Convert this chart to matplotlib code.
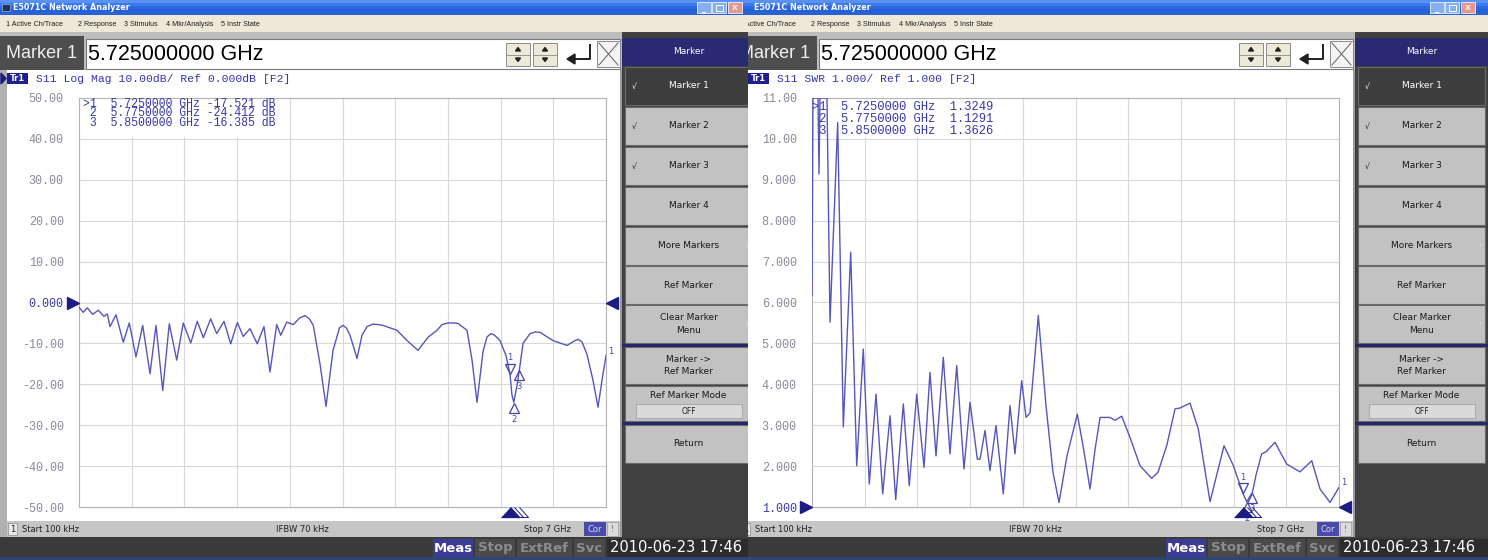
import matplotlib
matplotlib.use("Agg")
import matplotlib.pyplot as plt
from matplotlib.patches import Rectangle, Polygon
from matplotlib.transforms import offset_copy, blended_transform_factory, Affine2D
import numpy as np

W, H = 1488, 560

# S11 log mag trace (GHz, dB)
s11_freq = [0.0001, 0.057, 0.110, 0.182, 0.256, 0.332, 0.376, 0.412, 0.491, 0.588,
            0.668, 0.757, 0.846, 0.943, 1.023, 1.112, 1.199, 1.298, 1.385, 1.484,
            1.571, 1.651, 1.749, 1.829, 1.926, 2.015, 2.103, 2.182, 2.271, 2.368,
            2.457, 2.537, 2.626, 2.679, 2.759, 2.847, 2.930, 3.002, 3.060, 3.112,
            3.201, 3.281, 3.374, 3.460, 3.507, 3.550, 3.600, 3.693, 3.759, 3.826,
            3.900, 3.970, 4.038, 4.224, 4.357, 4.503, 4.636, 4.755, 4.822, 4.900,
            4.970, 5.034, 5.154, 5.220, 5.287, 5.366, 5.420, 5.473, 5.520, 5.592,
            5.672, 5.725, 5.750, 5.775, 5.800, 5.825, 5.850, 5.898, 5.991, 6.060,
            6.124, 6.296, 6.482, 6.580, 6.628, 6.680, 6.748, 6.827, 6.894, 6.947,
            7.0]
s11_db = [-1.2, -2.4, -1.3, -2.9, -1.9, -3.4, -2.8, -5.9, -3.0, -9.7,
          -5.0, -13.3, -5.6, -17.4, -5.6, -21.5, -5.2, -14.1, -5.0, -9.9,
          -4.6, -8.6, -4.0, -7.6, -4.6, -10.1, -4.9, -8.3, -6.4, -10.1,
          -5.9, -17.0, -5.4, -8.0, -4.8, -5.4, -3.8, -3.2, -4.0, -5.6,
          -15.0, -25.4, -11.7, -6.2, -5.6, -6.2, -8.0, -13.7, -8.0, -5.9,
          -5.3, -5.4, -5.6, -6.8, -9.3, -11.7, -8.5, -6.8, -5.4, -5.0,
          -5.0, -5.1, -6.8, -14.0, -24.4, -12.0, -8.4, -7.6, -8.0, -9.3,
          -13.0, -17.521, -22.5, -24.412, -22.0, -19.5, -16.385, -10.0, -7.6, -7.2,
          -7.3, -9.3, -10.5, -9.4, -9.0, -9.6, -12.7, -19.0, -25.6, -19.0,
          -13.0]

# SWR trace (values above 11 sit on the top edge)
swr_freq = [0.0001, 0.013, 0.080, 0.093, 0.106, 0.199, 0.239, 0.341, 0.416, 0.514,
            0.594, 0.681, 0.761, 0.850, 0.939, 1.036, 1.112, 1.213, 1.292, 1.391,
            1.488, 1.567, 1.647, 1.744, 1.833, 1.922, 2.019, 2.099, 2.196, 2.232,
            2.298, 2.364, 2.444, 2.541, 2.630, 2.696, 2.785, 2.843, 2.896, 3.006,
            3.108, 3.201, 3.281, 3.387, 3.524, 3.600, 3.693, 3.759, 3.826, 3.958,
            4.025, 4.114, 4.224, 4.357, 4.512, 4.596, 4.712, 4.822, 4.888, 5.021,
            5.131, 5.287, 5.473, 5.597, 5.725, 5.775, 5.850, 5.900, 5.973, 6.031,
            6.150, 6.305, 6.482, 6.638, 6.748, 6.881, 7.0]
swr_val = [6.17, 11.0, 11.0, 9.14, 11.0, 11.0, 5.52, 10.4, 2.96, 7.23,
           2.01, 4.86, 1.56, 3.76, 1.32, 3.23, 1.18, 3.52, 1.52, 3.76,
           1.97, 4.29, 2.25, 4.66, 2.30, 4.46, 1.93, 3.56, 2.17, 2.17,
           2.87, 1.89, 2.99, 1.32, 3.48, 2.30, 4.09, 3.19, 3.30, 5.68,
           3.48, 1.85, 1.11, 2.25, 3.27, 2.5, 1.44, 2.4, 3.19, 3.19,
           3.12, 3.22, 2.70, 2.01, 1.70, 1.85, 2.50, 3.40, 3.42, 3.54,
           2.91, 1.13, 2.50, 2.01, 1.3249, 1.1291, 1.3626, 1.8, 2.30, 2.35,
           2.58, 2.05, 1.86, 2.13, 1.44, 1.11, 1.48]

mkr_freq = [5.725, 5.775, 5.85]
mkr_db = [-17.521, -24.412, -16.385]
mkr_swr = [1.3249, 1.1291, 1.3626]

db_ticks = [50, 40, 30, 20, 10, 0, -10, -20, -30, -40, -50]
db_labels = ["50.00", "40.00", "30.00", "20.00", "10.00", "0.000",
             "-10.00", "-20.00", "-30.00", "-40.00", "-50.00"]
swr_ticks = [11, 10, 9, 8, 7, 6, 5, 4, 3, 2, 1]
swr_labels = ["11.00", "10.00", "9.000", "8.000", "7.000", "6.000",
              "5.000", "4.000", "3.000", "2.000", "1.000"]

menu_items = ["1 Active Ch/Trace", "2 Response", "3 Stimulus", "4 Mkr/Analysis", "5 Instr State"]
softkeys = ["Marker 1", "Marker 2", "Marker 3", "Marker 4", "More Markers", "Ref Marker",
            "Clear Marker\nMenu", "Marker ->\nRef Marker", "Ref Marker Mode", "Return"]
status_keys = ["Meas", "Stop", "ExtRef", "Svc"]
date_text = "2010-06-23 17:46"

TRACE = "#5656bc"
NAVY = "#1c1c84"
MONO = "Liberation Mono"

plt.rcParams["font.family"] = "DejaVu Sans"
fig = plt.figure(figsize=(W / 100, H / 100), dpi=100)
fig.patch.set_facecolor("#3a3a3a")
pix = Affine2D().scale(1.0 / W, -1.0 / H).translate(0, 1) + fig.transFigure


def rect(ax, x0, y0, x1, y1, fc, ec="none", lw=0.0, z=1):
    ax.add_patch(Rectangle((x0, y0), x1 - x0, y1 - y0, facecolor=fc,
                           edgecolor=ec, linewidth=lw, zorder=z))


def txt(ax, x, y, s, **kw):
    kw.setdefault("clip_on", True)
    kw.setdefault("va", "center")
    return ax.text(x, y, s, **kw)


def draw_screen(fx0, fx1, lx0, dxh, trace_hdr, icon):
    ax = fig.add_axes([fx0 / W, 0, (fx1 - fx0) / W, 1])
    ax.set_xlim(lx0, lx0 + (fx1 - fx0))
    ax.set_ylim(H, 0)
    ax.axis("off")

    rect(ax, 0, 0, 760, 560, "#c4c4c4")
    # title bar
    bands = ["#5a92f4", "#3d7aee", "#2c68e2", "#2460d8", "#2a62d6"]
    for i, c in enumerate(bands):
        rect(ax, 0, i * 3, 760, i * 3 + 3, c)
    if icon:
        rect(ax, 2, 4, 10, 11, "#203060", ec="#a0b0d0", lw=0.5, z=2)
    txt(ax, 13 + dxh, 7.5, "E5071C Network Analyzer", color="white",
        fontsize=5.8, fontweight="bold")
    for x0, c in [(697, "#86aef2"), (712, "#86aef2"), (728, "#e39a8e")]:
        rect(ax, x0, 2, x0 + 14, 13, c, ec="#eef3ff", lw=0.6, z=2)
    txt(ax, 704, 9, "_", color="white", fontsize=6, ha="center", fontweight="bold")
    rect(ax, 716, 5, 723, 11, "none", ec="white", lw=0.7, z=3)
    txt(ax, 735, 7.5, "x", color="#f8e8e4", fontsize=6.5, ha="center", fontweight="bold")

    # menu bar
    rect(ax, 0, 15, 760, 32, "#ece9d8")
    for x, s in zip([6, 78, 124, 166, 221], menu_items):
        txt(ax, x, 24, s, fontsize=5.2, color="#202020", fontfamily="Liberation Sans")

    # marker entry row
    rect(ax, 0, 32, 622, 70, "#bdbdbd")
    rect(ax, 0, 36, 84, 70, "#4e4e4e")
    txt(ax, 42, 54, "Marker 1", color="#f0f0f0", fontsize=13, ha="center",
        fontfamily="Liberation Sans")
    rect(ax, 86, 39, 620, 69, "white", ec="#7a7a7a", lw=0.8, z=2)
    txt(ax, 88, 54.5, "5.725000000 GHz", color="black", fontsize=15.5,
        fontfamily="Liberation Sans", zorder=3)
    for x0 in (506, 533):
        rect(ax, x0, 43, x0 + 24, 66, "#ece9d8", ec="#8a8a8a", lw=0.7, z=3)
        ax.plot([x0, x0 + 24], [54.5, 54.5], color="#8a8a8a", lw=0.6, zorder=4)
        cx = x0 + 12
        ax.add_patch(Polygon([(cx - 2.5, 51), (cx + 2.5, 51), (cx, 47.5)], color="#202020", zorder=4))
        ax.add_patch(Polygon([(cx - 2.5, 58), (cx + 2.5, 58), (cx, 61.5)], color="#202020", zorder=4))
    ax.plot([590, 590, 573], [45, 59, 59], color="#202020", lw=1.4, zorder=4)
    ax.add_patch(Polygon([(567, 59), (575, 54), (575, 64)], color="#202020", zorder=4))
    rect(ax, 597, 41, 620, 67, "#f4f4f4", ec="#8a8a8a", lw=0.7, z=3)
    ax.plot([599, 618], [43, 65], color="#606060", lw=0.7, zorder=4)
    ax.plot([599, 618], [65, 43], color="#606060", lw=0.7, zorder=4)

    # plot panel
    rect(ax, 0, 70, 7, 537, "#b0b0b0")
    rect(ax, 7, 70, 620, 521, "white")
    rect(ax, 620, 70, 622, 537, "#9a9a9a")
    hx = 7 + dxh
    if icon:
        ax.add_patch(Polygon([(1, 73), (1, 84), (6, 78.5)], color=NAVY, zorder=2))
    rect(ax, hx, 73, hx + 21, 84, "#1e1e8e", z=2)
    txt(ax, hx + 10.5, 78.5, "Tr1", color="white", fontsize=6, ha="center", fontweight="bold", zorder=3)
    txt(ax, hx + 29, 78.5, trace_hdr, color="#3434b0", fontsize=8.2, fontfamily=MONO, zorder=3)

    # status bar
    rect(ax, 7, 521, 620, 537, "#c6c6c6")
    rect(ax, 8, 523, 17, 535, "#e8e8e8", ec="#8a8a8a", lw=0.5, z=2)
    txt(ax, 12.5, 529, "1", fontsize=6, ha="center", color="#202020", zorder=3)
    txt(ax, 22, 529, "Start 100 kHz", fontsize=6, color="#202020")
    txt(ax, 276, 529, "IFBW 70 kHz", fontsize=6, color="#202020")
    txt(ax, 524, 529, "Stop 7 GHz", fontsize=6, color="#202020")
    rect(ax, 584, 522, 606, 536, "#4a4aa8", z=2)
    txt(ax, 595, 529, "Cor", fontsize=6, ha="center", color="#d8d8ff", zorder=3)
    rect(ax, 607, 522, 618, 536, "#dcdcdc", ec="#9a9a9a", lw=0.5, z=2)
    txt(ax, 612.5, 529, "!", fontsize=5.5, ha="center", color="#606060", zorder=3)

    # bottom bar
    rect(ax, 0, 537, 760, 560, "#3a3a3a")
    rect(ax, 0, 557, 760, 560, "#2e4676", z=2)
    sx = [(433, 473), (475, 515), (517, 572), (574, 605)]
    for (x0, x1), s in zip(sx, status_keys):
        active = s == "Meas"
        rect(ax, x0, 539, x1, 557, "#3c3c98" if active else "#4a4a4a", z=2)
        txt(ax, (x0 + x1) / 2, 548, s, ha="center", fontsize=9.5, fontweight="bold",
            color="white" if active else "#8c8c8c", zorder=3)
    rect(ax, 607, 539, 760, 557, "#2c2c2c", z=2)
    txt(ax, 610, 548, date_text, fontsize=10.5, color="white", zorder=3)

    # softkey panel
    rect(ax, 622, 32, 760, 537, "#404040", z=2)
    rect(ax, 622, 38, 760, 66, "#2a2a72", z=3)
    txt(ax, 688.5, 52, "Marker", color="white", fontsize=6.5, ha="center", zorder=4)
    keys_y = [(67, 105), (107, 145), (147, 185), (187, 225), (227, 265), (266, 304),
              (305, 343), (347, 384), (386, 421), (425, 463)]
    for i, ((y0, y1), s) in enumerate(zip(keys_y, softkeys)):
        active = i == 0
        rect(ax, 625, y0, 752, y1, "#3e3e3e" if active else "#c2c2c2",
             ec="#6a6a6a", lw=0.8, z=3)
        col = "white" if active else "#1a1a1a"
        if s == "Ref Marker Mode":
            txt(ax, 688.5, y0 + 10, s, ha="center", fontsize=6.5, color=col, zorder=4)
            rect(ax, 636, y0 + 18, 742, y1 - 3, "#dadada", ec="#9a9a9a", lw=0.5, z=4)
            txt(ax, 689, (y0 + 18 + y1 - 3) / 2, "OFF", ha="center", fontsize=5.5, color="#202020", zorder=5)
        else:
            txt(ax, 688.5, (y0 + y1) / 2, s, ha="center", fontsize=6.5, color=col,
                zorder=4, linespacing=1.5)
        if i in (0, 1, 2):
            txt(ax, 632, (y0 + y1) / 2, "\u221a", fontsize=5.5, color=col, zorder=4)
        if s in ("More Markers", "Clear Marker\nMenu"):
            txt(ax, 745, (y0 + y1) / 2, "\u203a", fontsize=6, color="#e8e8e8", zorder=4)
    rect(ax, 622, 343.5, 760, 346.5, "#26266a", z=4)
    rect(ax, 622, 421.5, 760, 424.5, "#26266a", z=4)
    return ax


def draw_plot(fx0, freq, vals, ylim, ticks, labels, ref_val, mvals, lines, y0, pitch, tx, fs):
    ax = fig.add_axes([fx0 / W, 1 - 507.0 / H, 527.0 / W, 409.0 / H])
    ax.set_xlim(0, 7)
    ax.set_ylim(*ylim)
    ax.set_facecolor("white")
    ax.set_xticks(np.linspace(0, 7, 11))
    ax.set_xticklabels([])
    ax.set_yticks(ticks)
    ax.set_yticklabels(labels, fontfamily=MONO, fontsize=8.5, color="#8a8a9a")
    ax.tick_params(length=0, pad=11)
    for t, v in zip(ax.get_yticklabels(), ticks):
        if v == ref_val:
            t.set_color("#3a3aa8")
    ax.grid(True, color="#d8d8d8", lw=0.8)
    ax.set_axisbelow(True)
    for s in ax.spines.values():
        s.set_color("#b4b4b4")
        s.set_linewidth(0.8)

    # readout area hides the grid
    div = (ylim[1] - ylim[0]) / 10.0
    ax.add_patch(Rectangle((0.01, ylim[1] - 0.96 * div), 2.77, 0.96 * div,
                           facecolor="white", edgecolor="none", zorder=1))
    ax.plot(freq, vals, color=TRACE, lw=1.0, zorder=3)
    for i, s in enumerate(lines):
        ax.text(fx0 + tx, y0 + i * pitch, s, transform=pix, fontfamily=MONO,
                fontsize=fs, color="#3838a8", va="center", zorder=5)

    up = offset_copy(ax.transData, fig=fig, x=0, y=4.0, units="points")
    dn = offset_copy(ax.transData, fig=fig, x=0, y=-4.0, units="points")
    ax.plot([mkr_freq[0]], [mvals[0]], marker="v", ms=6.5, mfc="none", mec="#4444a8",
            mew=0.9, transform=up, clip_on=False, zorder=4)
    ax.annotate("1", (mkr_freq[0], mvals[0]), xytext=(0, 12), textcoords="offset points",
                ha="center", va="center", fontsize=6, color="#4444a8", annotation_clip=False)
    for k in (1, 2):
        ax.plot([mkr_freq[k]], [mvals[k]], marker="^", ms=6.5, mfc="none", mec="#4444a8",
                mew=0.9, transform=dn, clip_on=False, zorder=4)
        ax.annotate(str(k + 1), (mkr_freq[k], mvals[k]), xytext=(0, -12),
                    textcoords="offset points", ha="center", va="center", fontsize=6,
                    color="#4444a8", annotation_clip=False)

    flat = [(-1, -0.55), (1, -0.55), (0, 0.55)]
    bt = offset_copy(blended_transform_factory(ax.transData, ax.transAxes), fig=fig,
                     y=-3.6, units="points")
    ax.plot([mkr_freq[0]], [0], marker=flat, ms=13, color=NAVY, ls="none",
            transform=bt, clip_on=False, zorder=6)
    ax.plot(mkr_freq[1:], [0, 0], marker=flat, ms=13, mfc="none", mec=NAVY, mew=0.7,
            ls="none", transform=bt, clip_on=False, zorder=6)

    bl = blended_transform_factory(ax.transAxes, ax.transData)
    ax.plot([0], [ref_val], marker=">", ms=8.5, color=NAVY, ls="none", clip_on=False,
            transform=offset_copy(bl, fig=fig, x=-4.2, units="points"), zorder=6)
    ax.plot([1], [ref_val], marker="<", ms=8.5, color=NAVY, ls="none", clip_on=False,
            transform=offset_copy(bl, fig=fig, x=4.2, units="points"), zorder=6)
    ax.annotate("1", (7.0, vals[-1]), xytext=(1.5, 0), textcoords="offset points",
                ha="left", va="bottom", fontsize=6, color="#4444a8", annotation_clip=False)
    return ax


draw_screen(0, 748, 0, 0, "S11 Log Mag 10.00dB/ Ref 0.000dB [F2]", True)
draw_screen(748, W, 15, 8, "S11 SWR 1.000/ Ref 1.000 [F2]", False)

left_lines = []
right_lines = []
for i, (f, d, s) in enumerate(zip(mkr_freq, mkr_db, mkr_swr)):
    tag = (">" if i == 0 else " ") + str(i + 1)
    left_lines.append("%s  %.7f GHz %7.3f dB" % (tag, f, d))
    right_lines.append("%s  %.7f GHz %7.4f" % (tag, f, s))

draw_plot(79, s11_freq, s11_db, (-50, 50), db_ticks, db_labels, 0, mkr_db,
          left_lines, 104, 9.5, 4, 8.3)
draw_plot(812, swr_freq, swr_val, (1, 11), swr_ticks, swr_labels, 1, mkr_swr,
          right_lines, 107, 12, 0, 8.7)

fig.savefig("out.png", dpi=100)
